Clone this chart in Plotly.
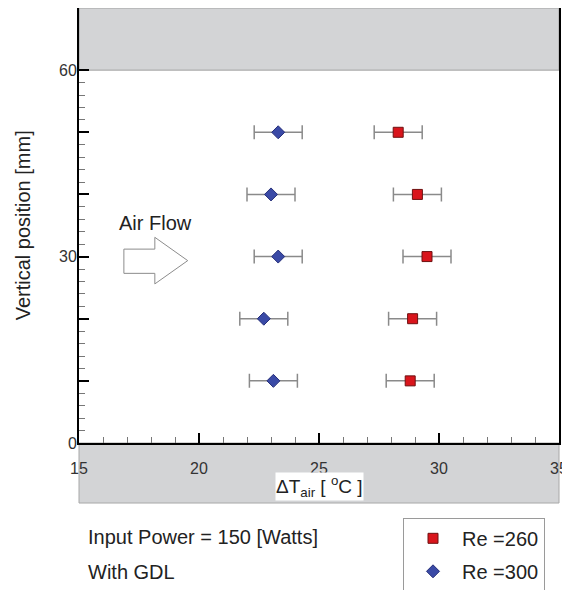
import plotly.graph_objects as go

# ---- data ----
positions = [10, 20, 30, 40, 50]           # vertical position [mm]
dT_re260 = [28.8, 28.9, 29.5, 29.1, 28.3]  # Re = 260
err_re260 = [1.0, 1.0, 1.0, 1.0, 1.0]
dT_re300 = [23.1, 22.7, 23.3, 23.0, 23.3]  # Re = 300
err_re300 = [1.0, 1.0, 1.0, 1.0, 1.0]

x_tickvals = [15, 20, 25, 30, 35]
x_ticktext = ["15", "20", "25", "30", "35"]
x_minor = [16, 17, 18, 19, 21, 22, 23, 24, 26, 27, 28, 29, 31, 32, 33, 34]
y_tickvals = [0, 10, 20, 30, 40, 50, 60]
y_ticktext = ["0", "", "", "30", "", "", "60"]
y_minor = [2, 4, 6, 8, 12, 14, 16, 18, 22, 24, 26, 28, 32, 34, 36, 38, 42, 44, 46, 48, 52, 54, 56, 58]

FONT = "Liberation Sans, Arial, sans-serif"
GRAY_BAND = "#d3d4d6"

fig = go.Figure()
fig.add_trace(go.Scatter(
    x=dT_re260, y=positions, mode="markers", name="Re =260",
    error_x=dict(type="data", array=err_re260, color="#8a8a8a", thickness=1.5, width=7),
    marker=dict(symbol="square", size=10, color="#d9151c", line=dict(color="#6e1010", width=1)),
    legendgroup="a",
))
fig.add_trace(go.Scatter(
    x=dT_re300, y=positions, mode="markers", name="Re =300",
    error_x=dict(type="data", array=err_re300, color="#8a8a8a", thickness=1.5, width=7),
    marker=dict(symbol="diamond", size=10, color="#3a4aa6", line=dict(color="#27307a", width=1)),
    legendgroup="b",
))

shapes = [
    # top gray band
    dict(type="rect", xref="x", yref="y", x0=15, x1=35, y0=60, y1=70,
         fillcolor=GRAY_BAND, line=dict(color="#a0a0a0", width=1), layer="below"),
    # bottom gray band (below axis)
    dict(type="rect", xref="paper", yref="paper", x0=0, x1=1, y0=0, y1=-0.138,
         fillcolor=GRAY_BAND, line=dict(color="#a8a8a8", width=1), layer="below"),
    # air flow arrow outline
    dict(type="path", xref="x", yref="y",
         path="M 16.87 31.2 L 18.16 31.2 L 18.16 33.1 L 19.53 29.35 L 18.16 25.6 L 18.16 27.3 L 16.87 27.3 Z",
         fillcolor="white", line=dict(color="#8c8c8c", width=1)),
]

annotations = [
    dict(text="Air Flow", xref="paper", yref="paper", x=0.079, y=0.506,
         xanchor="left", yanchor="middle", showarrow=False,
         font=dict(family=FONT, size=20, color="#222")),
    dict(text="ΔT<sub>air</sub> [ <sup>o</sup>C ]", xref="x", yref="paper", x=25, y=-0.101,
         xanchor="center", yanchor="middle", showarrow=False, bgcolor="white", borderpad=0,
         font=dict(family=FONT, size=19, color="#222")),
    dict(text="Vertical position [mm]", xref="paper", yref="paper", x=-0.117, y=0.5,
         xanchor="center", yanchor="middle", showarrow=False, textangle=-90,
         font=dict(family=FONT, size=20, color="#222")),
    dict(text="Input Power = 150 [Watts]", xref="paper", yref="paper", x=0.014, y=-0.216,
         xanchor="left", yanchor="middle", showarrow=False,
         font=dict(family=FONT, size=20, color="#222")),
    dict(text="With GDL", xref="paper", yref="paper", x=0.014, y=-0.297,
         xanchor="left", yanchor="middle", showarrow=False,
         font=dict(family=FONT, size=20, color="#222")),
]

# the page body adds an 8px offset, so the figure is 8px smaller than the window
fig.update_layout(
    width=562, height=582,
    margin=dict(l=71, r=11, t=0, b=147, autoexpand=False),
    paper_bgcolor="white", plot_bgcolor="white",
    font=dict(family=FONT, size=16, color="#333"),
    shapes=shapes, annotations=annotations,
    showlegend=True,
    legend=dict(x=0.675, y=-0.172, xanchor="left", yanchor="top",
                bordercolor="#9a9a9a", borderwidth=1, bgcolor="white",
                font=dict(family=FONT, size=20, color="#222"),
                itemwidth=48, tracegroupgap=4),
    xaxis=dict(range=[15, 35], showgrid=False, zeroline=False, automargin=False,
               showline=True, linecolor="black", linewidth=2, mirror=True,
               tickmode="array", tickvals=x_tickvals, ticktext=x_ticktext,
               ticks="inside", ticklen=10, tickwidth=2, tickcolor="black",
               ticklabelstandoff=10,
               tickfont=dict(family=FONT, size=16, color="#333"),
               minor=dict(tickmode="array", tickvals=x_minor, ticks="inside",
                          ticklen=6, tickwidth=1, tickcolor="#777", showgrid=False)),
    yaxis=dict(range=[0, 70], showgrid=False, zeroline=False, automargin=False,
               showline=True, linecolor="black", linewidth=2, mirror=True,
               tickmode="array", tickvals=y_tickvals, ticktext=y_ticktext,
               ticks="inside", ticklen=10, tickwidth=2, tickcolor="black",
               ticklabelstandoff=-3,
               tickfont=dict(family=FONT, size=16, color="#333"),
               minor=dict(tickmode="array", tickvals=y_minor, ticks="inside",
                          ticklen=6, tickwidth=1, tickcolor="#777", showgrid=False)),
)

fig.write_html("out.html")
